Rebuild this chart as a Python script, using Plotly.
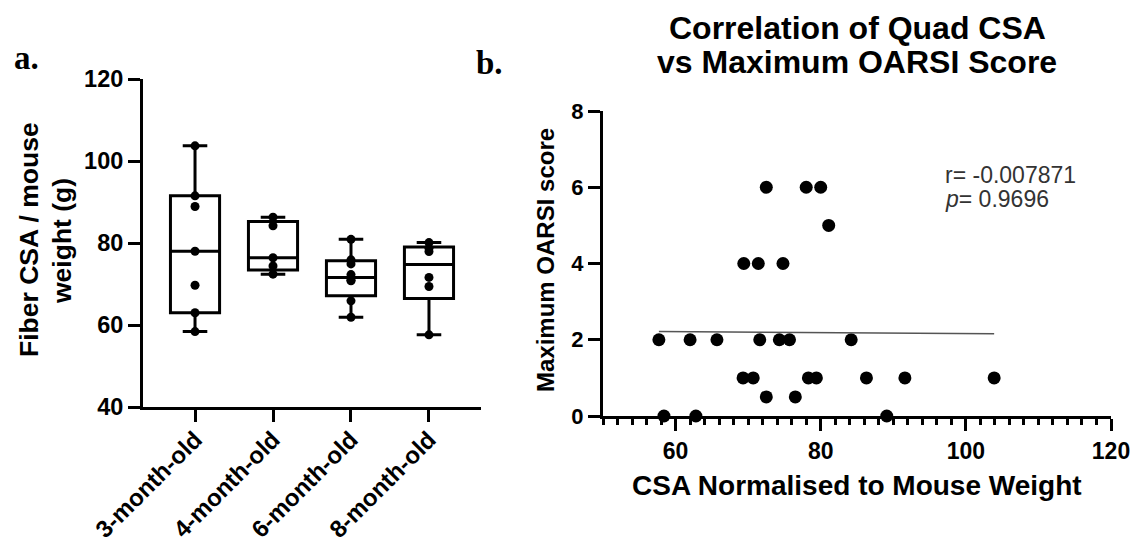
import numpy as np
import plotly.graph_objects as go

# ---------------- data ----------------
age_groups = ["3-month-old", "4-month-old", "6-month-old", "8-month-old"]
csa_3m = [103.7, 91.5, 88.9, 78.0, 69.7, 63.0, 58.4]
csa_4m = [86.3, 84.2, 76.4, 74.4, 72.4]
csa_6m = [80.9, 75.9, 74.9, 72.3, 70.9, 70.8, 65.9, 61.9]
csa_8m = [80.1, 78.7, 77.9, 71.6, 69.4, 57.6]
group_values = [csa_3m, csa_4m, csa_6m, csa_8m]

csa_norm = [57.7, 58.4, 62.0, 62.8, 65.7, 69.4, 71.4, 69.3, 70.7, 71.6, 72.5, 72.5, 74.3,
            75.7, 74.8, 76.5, 78.0, 80.0, 81.1, 78.3, 79.4, 84.2, 86.3, 91.6, 89.1, 103.9]
oarsi_max = [2, 0, 2, 0, 2, 4, 4, 1, 1, 2, 6, 0.5, 2,
             2, 4, 0.5, 6, 6, 5, 1, 1, 2, 1, 1, 0, 1]

r_text = "r= -0.007871"
p_text = "<i>p</i>= 0.9696"

W, H = 1137, 545
def px(x):
    return x / W
def py(y):
    return 1 - y / H

SANS = "Liberation Sans, Arial, sans-serif"
SERIF = "Liberation Serif, Times New Roman, serif"

fig = go.Figure()

# ---------------- panel a: box plot ----------------
q1 = [float(np.percentile(v, 25, method="weibull")) for v in group_values]
med = [float(np.percentile(v, 50, method="weibull")) for v in group_values]
q3 = [float(np.percentile(v, 75, method="weibull")) for v in group_values]
lo = [min(v) for v in group_values]
hi = [max(v) for v in group_values]

fig.add_trace(go.Box(
    x=age_groups, q1=q1, median=med, q3=q3, lowerfence=lo, upperfence=hi,
    boxpoints=False, width=0.63, whiskerwidth=0.5,
    line=dict(color="black", width=3), fillcolor="rgba(255,255,255,0)",
    xaxis="x", yaxis="y", showlegend=False, hoverinfo="skip",
))
pts_x = [g for g, v in zip(age_groups, group_values) for _ in v]
pts_y = [val for v in group_values for val in v]
fig.add_trace(go.Scatter(
    x=pts_x, y=pts_y, mode="markers",
    marker=dict(color="black", size=9),
    xaxis="x", yaxis="y", showlegend=False, cliponaxis=False,
))

# ---------------- panel b: scatter ----------------
fig.add_trace(go.Scatter(
    x=csa_norm, y=oarsi_max, mode="markers",
    marker=dict(color="black", size=13),
    xaxis="x2", yaxis="y2", showlegend=False, cliponaxis=False,
))
slope, intercept = np.polyfit(csa_norm, oarsi_max, 1)
fx = [min(csa_norm), max(csa_norm)]
fy = [slope * v + intercept for v in fx]
fig.add_trace(go.Scatter(
    x=fx, y=fy, mode="lines", line=dict(color="#555555", width=1.6),
    xaxis="x2", yaxis="y2", showlegend=False,
))

axis_common = dict(showline=True, linecolor="black", linewidth=3, ticks="outside",
                   ticklen=12, tickwidth=3, tickcolor="black", showgrid=False,
                   zeroline=False, layer="below traces", automargin=False)

fig.update_layout(
    template="none",
    width=W, height=H,
    margin=dict(l=0, r=0, t=0, b=0, pad=0, autoexpand=False),
    paper_bgcolor="white", plot_bgcolor="white",
    showlegend=False,
    xaxis=dict(domain=[px(143), px(481)], anchor="y", type="category",
               categoryorder="array", categoryarray=age_groups,
               range=[-0.667, 3.667], tickangle=-45, ticklabelstandoff=-6,
               tickfont=dict(family=SANS, size=24, color="black", weight="bold"),
               **axis_common),
    yaxis=dict(domain=[py(407), py(79)], anchor="x", range=[40, 120],
               tickvals=[40, 60, 80, 100, 120],
               tickfont=dict(family=SANS, size=23.5, color="black", weight="bold"),
               **axis_common),
    xaxis2=dict(domain=[px(603), px(1111)], anchor="y2", range=[50, 120],
                tickvals=[60, 80, 100, 120],
                minor=dict(dtick=2, tick0=0, ticks="outside", ticklen=6, tickwidth=2.5,
                           tickcolor="black", showgrid=False),
                tickfont=dict(family=SANS, size=23, color="black", weight="bold"),
                **axis_common),
    yaxis2=dict(domain=[py(416), py(111)], anchor="x2", range=[0, 8],
                tickvals=[0, 2, 4, 6, 8],
                tickfont=dict(family=SANS, size=22, color="black", weight="bold"),
                **axis_common),
)

ann = []
# panel letters
ann.append(dict(text="a.", x=px(12), y=py(58), xanchor="left", yanchor="middle",
                font=dict(family=SERIF, size=33, color="black", weight="bold")))
ann.append(dict(text="b.", x=px(474), y=py(63), xanchor="left", yanchor="middle",
                font=dict(family=SERIF, size=33, color="black", weight="bold")))
# panel a y title (two lines)
ann.append(dict(text="Fiber CSA / mouse", x=px(29), y=py(240), textangle=-90,
                xanchor="center", yanchor="middle",
                font=dict(family=SANS, size=26.5, color="black", weight="bold")))
ann.append(dict(text="weight (g)", x=px(62), y=py(241), textangle=-90,
                xanchor="center", yanchor="middle",
                font=dict(family=SANS, size=26.5, color="black", weight="bold")))
# panel b title
ann.append(dict(text="Correlation of Quad CSA", x=px(857), y=py(28),
                xanchor="center", yanchor="middle",
                font=dict(family=SANS, size=32, color="black", weight="bold")))
ann.append(dict(text="vs Maximum OARSI Score", x=px(857), y=py(62),
                xanchor="center", yanchor="middle",
                font=dict(family=SANS, size=32, color="black", weight="bold")))
# panel b axis titles
ann.append(dict(text="Maximum OARSI score", x=px(545), y=py(260), textangle=-90,
                xanchor="center", yanchor="middle",
                font=dict(family=SANS, size=24, color="black", weight="bold")))
ann.append(dict(text="CSA Normalised to Mouse Weight", x=px(857), y=py(485),
                xanchor="center", yanchor="middle",
                font=dict(family=SANS, size=28, color="black", weight="bold")))
# stats text
ann.append(dict(text=r_text, x=px(943), y=py(175), xanchor="left", yanchor="middle",
                font=dict(family=SANS, size=23, color="#333333")))
ann.append(dict(text=p_text, x=px(943), y=py(199), xanchor="left", yanchor="middle",
                font=dict(family=SANS, size=23, color="#333333")))

for a in ann:
    a.update(xref="paper", yref="paper", showarrow=False)
fig.update_layout(annotations=ann)

fig.write_html("out.html")
